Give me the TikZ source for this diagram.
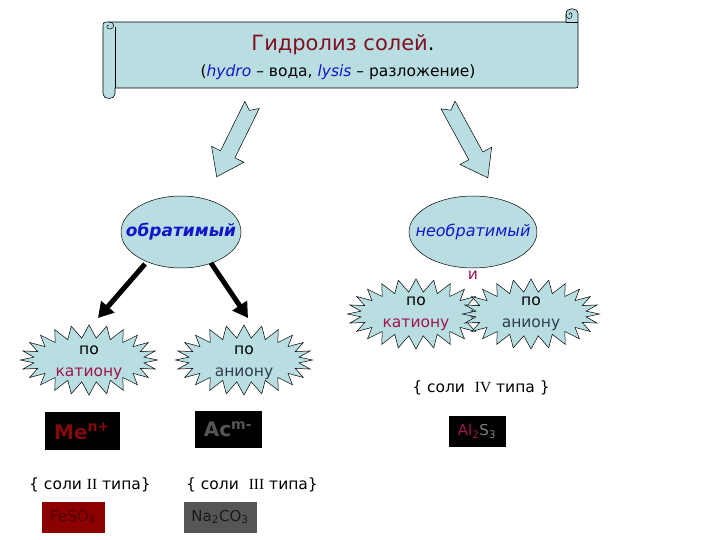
\documentclass[tikz,border=0pt]{standalone}
\usepackage{fontspec}
\setmainfont{DejaVu Sans}
\newfontfamily\romfont{Liberation Serif}
\usetikzlibrary{shapes.geometric,shapes.symbols,arrows.meta}
\definecolor{lb}{RGB}{185,222,226}
\definecolor{titred}{RGB}{128,16,32}
\definecolor{blu}{RGB}{20,20,200}
\definecolor{katc}{RGB}{160,20,80}
\definecolor{anc}{RGB}{50,62,78}
\definecolor{mered}{RGB}{130,10,10}
\definecolor{acgray}{RGB}{85,85,85}
\definecolor{feRed}{RGB}{140,0,0}
\definecolor{feText}{RGB}{80,0,0}
\definecolor{naGray}{RGB}{85,85,85}
\tikzset{
  scroll/.style={fill=lb, draw=black, line width=0.6pt},
  blockarrow/.style={fill=lb, draw=black, line width=0.5pt},
  oval/.style={ellipse, fill=lb, draw=black, line width=0.5pt, minimum width=120pt, minimum height=72pt, inner sep=0pt},
  burst/.style={starburst, starburst points=24, starburst point height=13pt, random starburst=0, fill=lb, draw=black, line width=0.5pt, minimum width=137pt, minimum height=70pt, inner sep=0pt},
  bursttext/.style={inner sep=0pt, align=center, font=\fontsize{15.5}{22}\selectfont},
  thickarrow/.style={line width=5pt, -{Triangle[length=15pt,width=17pt]}},
  label/.style={font=\fontsize{15.5}{18}\selectfont, inner sep=0pt},
  ionbox/.style={fill=black, inner sep=0pt, font=\bfseries\fontsize{20}{22}\selectfont},
  saltbox/.style={inner sep=0pt, font=\fontsize{15}{17}\selectfont}
}
\begin{document}
\begin{tikzpicture}[x=1pt,y=-1pt]
\useasboundingbox (0,0) rectangle (720,540);
% scroll
\filldraw[scroll] (115,22) -- (566,22) -- (566,14) .. controls (566,7) and (578,7) .. (578,14)
  -- (578,85) .. controls (578,88) .. (575,88) -- (115,88) -- (115,94)
  .. controls (115,100) and (103,100) .. (103,94) -- (103,28) .. controls (103,22) .. (109,22) -- cycle;
\draw[line width=0.5pt] (109,22) .. controls (115,22) and (115,29) .. (110,29) .. controls (106,29) and (106,25) .. (109,25);
\draw[line width=0.5pt] (115,27) -- (115,88);
\draw[line width=0.5pt] (566,14) .. controls (566,20) and (572,20) .. (572,15) .. controls (572,12) and (569,12) .. (569,15);
\draw[line width=0.5pt] (566,22) -- (578,22);
\node[inner sep=0pt, font=\fontsize{21}{23}\selectfont] (title) at (343,45) {\textcolor{titred}{Гидролиз солей}.};
\node[inner sep=0pt, font=\fontsize{15.5}{18}\selectfont] (sub) at (338,72) {(\textcolor{blu}{\itshape hydro} – вода, \textcolor{blu}{\itshape lysis} – разложение)};
% block arrows
\begin{scope}[shift={(252,105)}, rotate=243.8]
\filldraw[blockarrow] (0,-8) -- (55,-8) -- (55,-18) -- (80,0) -- (55,18) -- (55,8) -- (0,8) -- (6,0) -- cycle;
\end{scope}
\begin{scope}[shift={(448,105)}, rotate=-61.3]
\filldraw[blockarrow] (0,-8) -- (58,-8) -- (58,-18) -- (83,0) -- (58,18) -- (58,8) -- (0,8) -- (6,0) -- cycle;
\end{scope}
% ovals
\node[oval] (obr) at (181,232) {};
\node[inner sep=0pt, font=\bfseries\itshape\fontsize{17}{19}\selectfont, text=blu] (obrt) at (obr) {обратимый};
\node[oval, minimum width=128pt] (neobr) at (473,232) {};
\node[inner sep=0pt, font=\itshape\fontsize{16}{18}\selectfont, text=blu] (neobrt) at (neobr) {необратимый};
% left branch
\coordinate (a1s) at (145,264);
\coordinate (a1e) at (98,318);
\coordinate (a2s) at (211,263);
\coordinate (a2e) at (248,318);
\draw[thickarrow] (a1s) -- (a1e);
\draw[thickarrow] (a2s) -- (a2e);
\node[burst] (k1) at (89,360) {};
\node[bursttext] (k1t) at (89,363) {по\\\textcolor{katc}{катиону}};
\node[burst] (an1) at (244,360) {};
\node[bursttext] (an1t) at (244,363) {по\\\textcolor{anc}{аниону}};
% right branch
\node[burst] (k2) at (416,314) {};
\node[bursttext] (k2t) at (416,314) {по\\\textcolor{katc}{катиону}};
\node[burst] (an2) at (531,314) {};
\node[bursttext] (an2t) at (531,314) {по\\\textcolor{anc}{аниону}};
\node[label, text=katc, fill=white, inner sep=1pt] (i) at (473,275) {и};
\node[label] (t4) at (481,388) {\{ соли \ {\romfont IV} типа \}};
% ion boxes
\node[ionbox, minimum width=75pt, minimum height=38pt, text=mered] (me) at (82,431) {Me\textsuperscript{n+}};
\node[ionbox, minimum width=67pt, minimum height=37pt, text=acgray] (ac) at (228,429) {Ac\textsuperscript{m-}};
\node[fill=black, inner sep=0pt, minimum width=57pt, minimum height=31pt, font=\fontsize{15}{17}\selectfont] (al) at (477,431) {\textcolor{katc}{Al\textsubscript{2}}\textcolor{gray}{S\textsubscript{3}}};
% type labels
\node[label] (t2) at (90,485) {\{ соли {\romfont II} типа\}};
\node[label] (t3) at (252,485) {\{ соли \ {\romfont III} типа\}};
% salt boxes
\node[saltbox, fill=feRed, text=feText, minimum width=63pt, minimum height=31pt] (fe) at (73,517) {FeSO\textsubscript{4}};
\node[saltbox, fill=naGray, text=black!90, minimum width=73pt, minimum height=31pt] (na) at (220,517) {Na\textsubscript{2}CO\textsubscript{3}};
\end{tikzpicture}
\end{document}
